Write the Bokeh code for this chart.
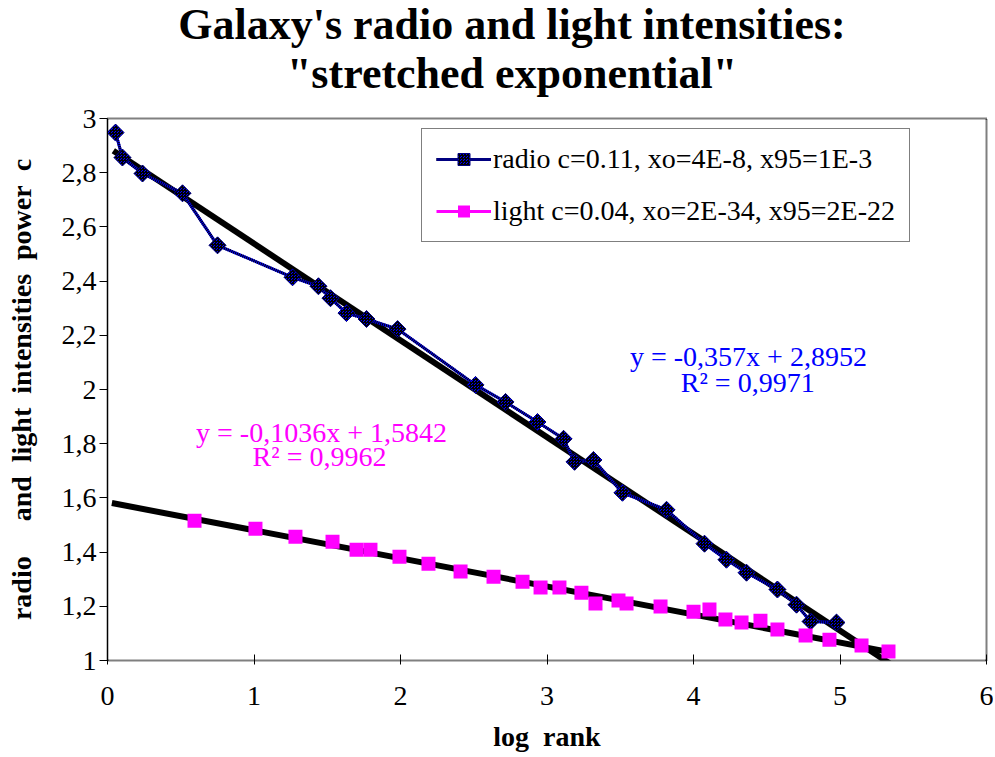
from bokeh.plotting import figure
from bokeh.models import (ColumnDataSource, Legend, LegendItem, Label, FixedTicker, Range1d, Div)
from bokeh.layouts import column
from bokeh.embed import file_html
from bokeh.resources import INLINE

# ---------------- data ----------------
radio_x = [0.055, 0.102, 0.239, 0.512, 0.751, 1.263, 1.440, 1.522, 1.631, 1.768, 1.980,
           2.512, 2.717, 2.935, 3.113, 3.188, 3.317, 3.515, 3.816, 4.075, 4.225, 4.362,
           4.573, 4.703, 4.799, 4.976]
radio_y = [2.948, 2.856, 2.797, 2.724, 2.532, 2.414, 2.381, 2.337, 2.282, 2.260, 2.223,
           2.017, 1.954, 1.880, 1.818, 1.733, 1.740, 1.619, 1.556, 1.431, 1.372, 1.324,
           1.262, 1.206, 1.144, 1.140]

light_x = [0.594, 1.010, 1.283, 1.536, 1.700, 1.795, 1.993, 2.191, 2.410, 2.635, 2.833,
           2.956, 3.085, 3.235, 3.331, 3.488, 3.543, 3.775, 4.000, 4.109, 4.218, 4.328,
           4.457, 4.573, 4.765, 4.928, 5.147, 5.331]
light_y = [1.516, 1.486, 1.457, 1.438, 1.409, 1.409, 1.383, 1.357, 1.328, 1.309, 1.291,
           1.269, 1.269, 1.250, 1.210, 1.221, 1.210, 1.199, 1.180, 1.188, 1.151, 1.140,
           1.147, 1.114, 1.092, 1.077, 1.055, 1.033]

# linear trendlines  y = slope * x + intercept
radio_fit = {"slope": -0.357, "intercept": 2.8952, "r2": "0,9971"}
light_fit = {"slope": -0.1036, "intercept": 1.5842, "r2": "0,9962"}
radio_trend_x = [0.04, 5.38]
light_trend_x = [0.03, 5.35]

x_ticks = [0, 1, 2, 3, 4, 5, 6]
x_tick_labels = ["0", "1", "2", "3", "4", "5", "6"]
y_ticks = [1.0, 1.2, 1.4, 1.6, 1.8, 2.0, 2.2, 2.4, 2.6, 2.8, 3.0]
y_tick_labels = ["1", "1,2", "1,4", "1,6", "1,8", "2", "2,2", "2,4", "2,6", "2,8", "3"]

radio_label = "radio c=0.11, xo=4E-8, x95=1E-3"
light_label = "light c=0.04, xo=2E-34, x95=2E-22"
title_lines = ["Galaxy's radio and light intensities:", "&quot;stretched exponential&quot;"]
NB = "\u00a0"
x_title = "log" + NB * 2 + "rank"
y_title = ("radio" + NB * 5 + "and" + NB * 2 + "light" + NB * 2 + "intensities"
           + NB * 2 + "power" + NB * 2 + "c")

SERIF = "Liberation Serif"
BLUE = "#0000FF"
MAGENTA = "#FF00FF"

# ---------------- title block ----------------
title_div = Div(
    text="<div style='box-sizing:border-box;width:993px;min-width:993px;padding-left:31px;"
         "padding-top:0px;text-align:center;font-family:\"Liberation Serif\";font-size:44px;"
         "font-weight:bold;line-height:49px;color:black;white-space:nowrap'>"
         + title_lines[0] + "<br>" + title_lines[1] + "</div>",
    width=993, height=104, margin=(0, 0, 0, 0))

# ---------------- figure ----------------
p = figure(width=993, height=650, output_backend="svg", toolbar_location=None,
           x_range=Range1d(0, 6), y_range=Range1d(1, 3),
           min_border_left=107, min_border_right=7, min_border_top=14, min_border_bottom=93,
           margin=(0, 0, 0, 0))
p.background_fill_color = "white"
p.border_fill_color = "white"
p.outline_line_color = "black"
p.outline_line_width = 2
p.outline_line_dash = "1 1"
p.xgrid.visible = False
p.ygrid.visible = False

# trendlines
def trend(fit, xs):
    return [fit["slope"] * v + fit["intercept"] for v in xs]

p.line(radio_trend_x, trend(radio_fit, radio_trend_x), line_color="black", line_width=6)
p.line(light_trend_x, trend(light_fit, light_trend_x), line_color="black", line_width=6)

# radio series
rsrc = ColumnDataSource(dict(x=radio_x, y=radio_y))
r_line = p.line("x", "y", source=rsrc, line_color=BLUE, line_width=3)
r_dots = p.line("x", "y", source=rsrc, line_color="black", line_width=3, line_dash="1 1")
r_pts = p.scatter("x", "y", source=rsrc, marker="square", angle=0.7853981634, size=12,
                  fill_color=BLUE, line_color="#000080", line_width=1,
                  hatch_pattern="criss_cross", hatch_color="black", hatch_scale=3, hatch_weight=1)

# light series
lsrc = ColumnDataSource(dict(x=light_x, y=light_y))
l_proxy = p.line(x=[float("nan")], y=[float("nan")], line_color=MAGENTA, line_width=3)
l_pts = p.scatter("x", "y", source=lsrc, marker="square", size=14,
                  fill_color=MAGENTA, line_color=MAGENTA, line_width=0)

# legend
legend = Legend(items=[LegendItem(label=radio_label, renderers=[r_line, r_dots, r_pts]),
                       LegendItem(label=light_label, renderers=[l_proxy, l_pts])],
                location=(314, 418), orientation="vertical")
legend.label_text_font = SERIF
legend.label_text_font_size = "28px"
legend.label_text_color = "black"
legend.glyph_width = 55
legend.glyph_height = 30
legend.label_height = 30
legend.label_standoff = 2
legend.spacing = 20
legend.padding = 14
legend.margin = 0
legend.border_line_color = "black"
legend.border_line_width = 1.5
legend.background_fill_color = "white"
legend.background_fill_alpha = 1.0
p.add_layout(legend)

# equation annotations
def fmt(v):
    return str(v).replace(".", ",")

eq_style = dict(text_font=SERIF, text_font_size="28px", text_align="center",
                text_baseline="middle")
p.add_layout(Label(x=4.375, y=2.12, text="y = %sx + %s" % (fmt(radio_fit["slope"]), fmt(radio_fit["intercept"])),
                   text_color=BLUE, **eq_style))
p.add_layout(Label(x=4.37, y=2.024, text="R\u00b2 = " + radio_fit["r2"], text_color=BLUE, **eq_style))
p.add_layout(Label(x=1.461, y=1.843, text="y = %sx + %s" % (fmt(light_fit["slope"]), fmt(light_fit["intercept"])),
                   text_color=MAGENTA, **eq_style))
p.add_layout(Label(x=1.447, y=1.751, text="R\u00b2 = " + light_fit["r2"], text_color=MAGENTA, **eq_style))

# axes
p.xaxis.ticker = FixedTicker(ticks=x_ticks)
p.xaxis.major_label_overrides = {t: l for t, l in zip(x_ticks, x_tick_labels)}
p.yaxis.ticker = FixedTicker(ticks=y_ticks)
p.yaxis.major_label_overrides = {t: l for t, l in zip(y_ticks, y_tick_labels)}

for ax in (p.xaxis, p.yaxis):
    ax.minor_tick_line_color = None
    ax.major_label_text_font = SERIF
    ax.major_label_text_font_size = "28px"
    ax.major_label_text_color = "black"
    ax.axis_label_text_font = SERIF
    ax.axis_label_text_font_style = "bold"
    ax.axis_label_text_font_size = "28px"
    ax.axis_label_text_color = "black"
    ax.major_tick_line_color = "black"

p.xaxis.axis_line_color = None
p.xaxis.major_tick_in = 6
p.xaxis.major_tick_out = 4
p.xaxis.major_label_standoff = 22
p.xaxis.axis_label = x_title
p.xaxis.axis_label_standoff = 13

p.yaxis.axis_line_color = "black"
p.yaxis.major_tick_in = 0
p.yaxis.major_tick_out = 8
p.yaxis.major_label_standoff = 3
p.yaxis.major_label_orientation = "horizontal"
p.yaxis.axis_label = y_title
p.yaxis.axis_label_standoff = 22

layout = column(title_div, p, spacing=0)
open("out.html", "w").write(file_html(layout, INLINE))
